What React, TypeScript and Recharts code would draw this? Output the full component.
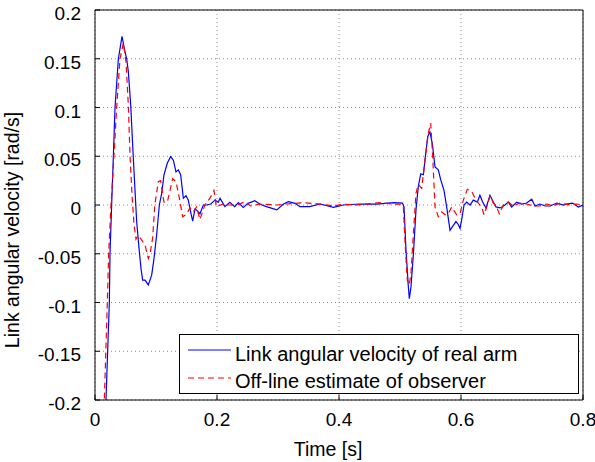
import React from 'react';
import { LineChart, Line, XAxis, YAxis, CartesianGrid, Legend } from 'recharts';

const xTicks = [0, 0.2, 0.4, 0.6, 0.8];
const yTicks = [-0.2, -0.15, -0.1, -0.05, 0, 0.05, 0.1, 0.15, 0.2];

const realTime = [
  0.014, 0.018, 0.0235, 0.0246, 0.0273, 0.0301, 0.0328, 0.0383, 0.0443, 0.0492,
  0.0519, 0.0546, 0.0585, 0.0617, 0.0645, 0.0683, 0.0727, 0.0754, 0.0781, 0.082,
  0.0874, 0.0929, 0.0967, 0.101, 0.1055, 0.1093, 0.1131, 0.1186, 0.124, 0.1284,
  0.1328, 0.1366, 0.1404, 0.1448, 0.1492, 0.153, 0.1568, 0.1601, 0.164, 0.1678,
  0.1721, 0.1776, 0.183, 0.1896, 0.1967, 0.2022, 0.205, 0.213, 0.221, 0.229,
  0.235, 0.243, 0.251, 0.262, 0.27, 0.281, 0.298, 0.309, 0.317, 0.328,
  0.336, 0.352, 0.369, 0.391, 0.407, 0.434, 0.462, 0.489, 0.504, 0.5066,
  0.5098, 0.5137, 0.5153, 0.518, 0.522, 0.5262, 0.53, 0.534, 0.5383, 0.5415,
  0.5454, 0.549, 0.553, 0.5574, 0.5628, 0.5667, 0.5721, 0.5765, 0.582, 0.5863,
  0.5918, 0.5956, 0.5984, 0.6011, 0.605, 0.6093, 0.6148, 0.6202, 0.6268, 0.631,
  0.6355, 0.641, 0.6475, 0.653, 0.6574, 0.664, 0.672, 0.6776, 0.683, 0.6913,
  0.6995, 0.7076, 0.716, 0.7213, 0.7295, 0.7377, 0.746, 0.757, 0.768, 0.7732,
  0.783, 0.7924, 0.8,
];
const realVelocity = [
  -0.26, -0.2, -0.1, -0.05, 0, 0.05, 0.1, 0.15, 0.173, 0.157,
  0.15, 0.137, 0.103, 0.062, 0.028, -0.017, -0.048, -0.065, -0.077, -0.077,
  -0.082, -0.072, -0.055, -0.031, 0, 0.012, 0.031, 0.043, 0.0496, 0.046,
  0.034, 0.036, 0.031, 0.007, 0.0095, 0.005, -0.007, -0.0165, -0.004, -0.006,
  -0.009, 0, 0, 0.001, 0.005, 0.003, 0.0068, -0.0017, 0.0027, -0.0017,
  0.0024, -0.0024, 0.0017, 0.0044, 0.001, -0.0017, -0.005, 0.001, 0.0034, 0.0017,
  -0.0017, -0.0017, 0.001, -0.0024, 0, 0.001, 0.001, 0.0024, 0.002, -0.002,
  -0.046, -0.084, -0.096, -0.084, -0.05, -0.005, 0.019, 0.032, 0.031, 0.049,
  0.07, 0.075, 0.063, 0.039, 0.036, 0.026, 0.015, -0.002, -0.026, -0.022,
  -0.017, -0.02, -0.024, -0.015, 0, 0.003, 0, 0.005, 0.003, 0.01,
  0.003, -0.003, 0.01, 0.003, -0.002, -0.003, 0, 0.003, -0.002, 0.003,
  0.001, 0.002, 0.006, -0.001, 0.001, -0.001, -0.001, 0.002, 0, 0.001,
  0.002, -0.002, 0,
];

const observerTime = [
  0.012, 0.0153, 0.0202, 0.0224, 0.0262, 0.0311, 0.0355, 0.041, 0.0464, 0.0508,
  0.0546, 0.0574, 0.0607, 0.064, 0.0672, 0.071, 0.0765, 0.082, 0.0874, 0.09,
  0.0945, 0.098, 0.1038, 0.1076, 0.113, 0.1186, 0.1273, 0.1328, 0.1383, 0.1437,
  0.15, 0.1557, 0.161, 0.1667, 0.172, 0.18, 0.1885, 0.195, 0.199, 0.21,
  0.22, 0.233, 0.246, 0.255, 0.27, 0.298, 0.314, 0.3415, 0.369, 0.391,
  0.407, 0.429, 0.467, 0.489, 0.502, 0.5055, 0.5087, 0.512, 0.5153, 0.518,
  0.522, 0.5262, 0.53, 0.5355, 0.541, 0.5465, 0.5503, 0.5536, 0.5574, 0.5628,
  0.5683, 0.5738, 0.5792, 0.5847, 0.5929, 0.5984, 0.6038, 0.6104, 0.6175, 0.623,
  0.6284, 0.6339, 0.6377, 0.6421, 0.6475, 0.653, 0.6585, 0.6628, 0.6694, 0.6776,
  0.6858, 0.6967, 0.7076, 0.7186, 0.7295, 0.7404, 0.7514, 0.7623, 0.7787, 0.7896,
  0.8,
];
const observerVelocity = [
  -0.26, -0.2, -0.1, -0.05, 0, 0.05, 0.1, 0.15, 0.166, 0.147,
  0.103, 0.051, 0.01, -0.02, -0.035, -0.031, -0.036, -0.041, -0.055, -0.051,
  -0.034, 0, 0.024, 0.025, 0.003, 0.003, 0.027, 0.024, 0.007, -0.012,
  -0.0095, -0.003, -0.007, -0.002, -0.015, 0, 0.007, 0.015, -0.0017, 0.001,
  0, 0, 0.0034, -0.001, 0.001, 0, 0.001, 0.0024, 0.001, -0.001,
  0.0007, 0, 0.0024, 0.001, 0.001, -0.002, -0.043, -0.077, -0.082, -0.07,
  -0.029, 0.012, 0.021, 0.017, 0.046, 0.074, 0.084, 0.05, -0.002, -0.012,
  -0.007, -0.01, -0.009, -0.002, -0.01, -0.009, 0.005, 0.016, 0.014, 0.007,
  0.002, -0.002, -0.01, -0.002, 0.009, 0.002, -0.002, -0.009, 0, 0.003,
  -0.001, 0.002, 0.001, -0.001, -0.001, 0.001, -0.001, 0.002, 0, 0.001,
  0,
];

const seriesNames = ['Link angular velocity of real arm', 'Off-line estimate of observer'];

const realData = realTime.map((t, i) => ({ t, v: realVelocity[i] }));
const observerData = observerTime.map((t, i) => ({ t, v: observerVelocity[i] }));

const FONT = '"Liberation Sans", Arial, Helvetica, sans-serif';
const FS = 19;
const TITLE_FS = 19.5;
const LEGEND_FS = 20;

const XTick = (props: any) => (
  <text x={props.x} y={props.y} textAnchor="middle" fontFamily={FONT} fontSize={FS} fill="#000">
    {String(props.payload.value)}
  </text>
);

const YTick = (props: any) => (
  <text x={props.x} y={props.y + 10} textAnchor="end" fontFamily={FONT} fontSize={FS} fill="#000">
    {String(props.payload.value)}
  </text>
);

const XLabel = (props: any) => {
  const vb = props.viewBox || {};
  const cx = vb.x + vb.width / 2 - 11;
  return (
    <text x={cx} y={456} textAnchor="middle" fontFamily={FONT} fontSize={TITLE_FS} fill="#000">
      Time [s]
    </text>
  );
};

const YLabel = (props: any) => {
  const vb = props.viewBox || {};
  const cy = vb.y + vb.height / 2 + 25;
  const x = 18.5;
  return (
    <text
      x={x}
      y={cy}
      textAnchor="middle"
      fontFamily={FONT}
      fontSize={TITLE_FS}
      fill="#000"
      transform={`rotate(-90, ${x}, ${cy})`}
    >
      Link angular velocity [rad/s]
    </text>
  );
};

const LegendBox = () => (
  <svg width={401} height={61} style={{ display: 'block' }}>
    <rect x={0.5} y={0.5} width={399} height={59} fill="#fff" stroke="#000" strokeWidth={1} />
    <line x1={9} x2={52} y1={16} y2={16} stroke="#0000ff" strokeWidth={1.2} />
    <line x1={9} x2={52} y1={44} y2={44} stroke="#ff0000" strokeWidth={1.2} strokeDasharray="6 4" />
    <text x={56} y={27} fontFamily={FONT} fontSize={LEGEND_FS} fill="#000">{seriesNames[0]}</text>
    <text x={56} y={54} fontFamily={FONT} fontSize={LEGEND_FS} fill="#000">{seriesNames[1]}</text>
  </svg>
);

export default function App() {
  return (
    <div style={{ position: 'absolute', left: 0, top: 0, background: '#fff' }}>
      <LineChart width={595} height={462} margin={{ top: 0, right: 0, bottom: 0, left: 0 }}>
        <CartesianGrid
          xAxisId="b"
          yAxisId="l"
          stroke="#8a8a8a"
          strokeDasharray="1 3"
          strokeWidth={1}
          horizontalValues={yTicks}
          verticalValues={xTicks}
        />
        <XAxis
          xAxisId="b"
          dataKey="t"
          type="number"
          domain={[0, 0.8]}
          ticks={xTicks}
          allowDataOverflow
          height={62}
          tickSize={-5}
          tickMargin={31}
          stroke="#000"
          tick={XTick}
          label={<XLabel />}
        />
        <XAxis
          xAxisId="t"
          orientation="top"
          dataKey="t"
          type="number"
          domain={[0, 0.8]}
          ticks={xTicks}
          allowDataOverflow
          height={10}
          tickSize={-5}
          stroke="#000"
          tick={false}
        />
        <YAxis
          yAxisId="l"
          type="number"
          domain={[-0.2, 0.2]}
          ticks={yTicks}
          allowDataOverflow
          width={95}
          tickSize={-5}
          tickMargin={19}
          stroke="#000"
          tick={YTick}
          label={<YLabel />}
        />
        <YAxis
          yAxisId="r"
          orientation="right"
          type="number"
          domain={[-0.2, 0.2]}
          ticks={yTicks}
          allowDataOverflow
          width={12}
          tickSize={-5}
          stroke="#000"
          tick={false}
        />
        <Legend
          layout="horizontal"
          verticalAlign="middle"
          align="center"
          wrapperStyle={{ position: 'absolute', left: 179, top: 334, width: 401, height: 61 }}
          content={() => <LegendBox />}
        />
        <Line
          xAxisId="b"
          yAxisId="l"
          data={realData}
          dataKey="v"
          name={seriesNames[0]}
          type="linear"
          dot={false}
          activeDot={false}
          stroke="#0000ff"
          strokeWidth={1.2}
          isAnimationActive={false}
        />
        <Line
          xAxisId="b"
          yAxisId="l"
          data={observerData}
          dataKey="v"
          name={seriesNames[1]}
          type="linear"
          dot={false}
          activeDot={false}
          stroke="#ff0000"
          strokeWidth={1.2}
          strokeDasharray="6 4"
          isAnimationActive={false}
        />
      </LineChart>
    </div>
  );
}
